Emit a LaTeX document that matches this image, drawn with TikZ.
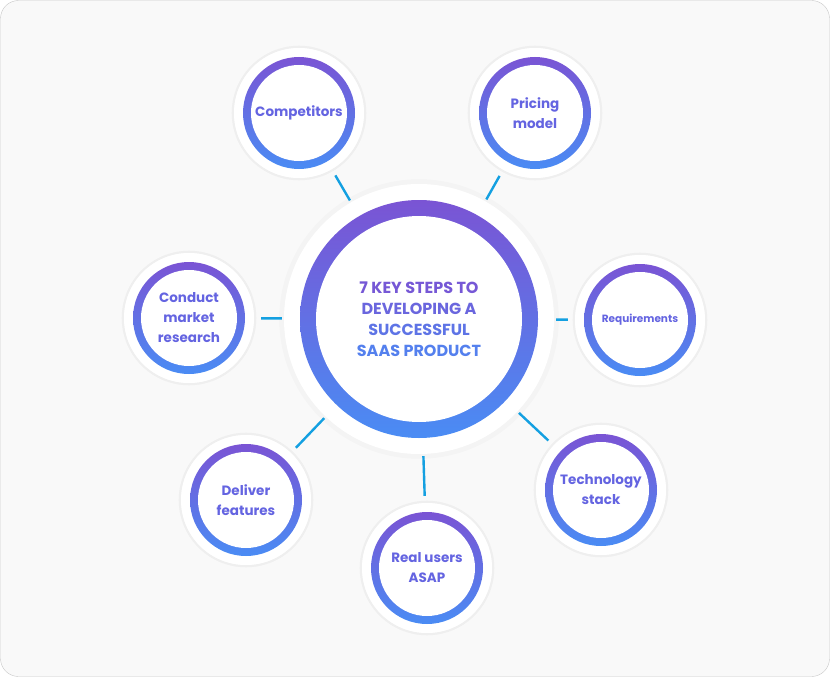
\documentclass[tikz,border=0pt]{standalone}
\usepackage{fontspec}
\setmainfont{Poppins}
\usetikzlibrary{shadows}
\begin{document}
\begin{tikzpicture}[x=1pt,y=-1pt,
  halo/.style={circle,fill=white,minimum size=#1,inner sep=0pt,drop shadow={shadow xshift=0pt,shadow yshift=0pt,opacity=0.04,shadow scale=1.035}},
  conn/.style={draw={rgb,255:red,20;green,160;blue,225},line width=2.4pt},
  lbl/.style={align=center,font=\bfseries\fontsize{13.5}{20}\selectfont,text={rgb,255:red,100;green,100;blue,225}}]
\definecolor{topc}{RGB}{122,84,212}
\definecolor{botc}{RGB}{74,140,244}
\useasboundingbox (0,0) rectangle (830,677);
\draw[fill={rgb,255:red,249;green,249;blue,249},draw={rgb,255:red,200;green,200;blue,200},rounded corners=18pt] (0.5,0.5) rectangle (829.5,676.5);
\newcommand{\ring}[3]{%
  \shade[top color=topc,bottom color=botc] (#1) circle (#2);
  \fill[white] (#1) circle (#2-#3);}
% halos
\node[halo=270pt] (c) at (419,319) {};
\node[halo=130pt] (comp) at (299,113) {};
\node[halo=130pt] (pric) at (535,113) {};
\node[halo=130pt] (req) at (640,320) {};
\node[halo=130pt] (tech) at (601,490) {};
\node[halo=130pt] (real) at (427,568) {};
\node[halo=130pt] (deli) at (246,500) {};
\node[halo=130pt] (cond) at (189,318) {};
\foreach \n in {comp,pric,req,tech,real,deli,cond}{
  \draw[conn,shorten <=2pt,shorten >=7pt] (c) -- (\n);}
\foreach \n in {comp,pric,req,tech,real,deli,cond}{
  \node[halo=130pt] at (\n) {};
  \ring{\n}{56}{8}}
\ring{c}{119}{16}
\node[align=center,font=\bfseries\fontsize{16}{21}\selectfont] at (c) {%
  \textcolor[RGB]{118,88,214}{7 KEY STEPS TO}\\
  \textcolor[RGB]{106,102,222}{DEVELOPING A}\\
  \textcolor[RGB]{94,116,230}{SUCCESSFUL}\\
  \textcolor[RGB]{84,128,238}{SAAS PRODUCT}};
\node[lbl] at (comp) {Competitors};
\node[lbl] at (pric) {Pricing\\model};
\node[lbl,font=\bfseries\fontsize{10.5}{13}\selectfont] at (req) {Requirements};
\node[lbl] at (tech) {Technology\\stack};
\node[lbl] at (real) {Real users\\ASAP};
\node[lbl] at (deli) {Deliver\\features};
\node[lbl] at (cond) {Conduct\\market\\research};
\end{tikzpicture}
\end{document}
